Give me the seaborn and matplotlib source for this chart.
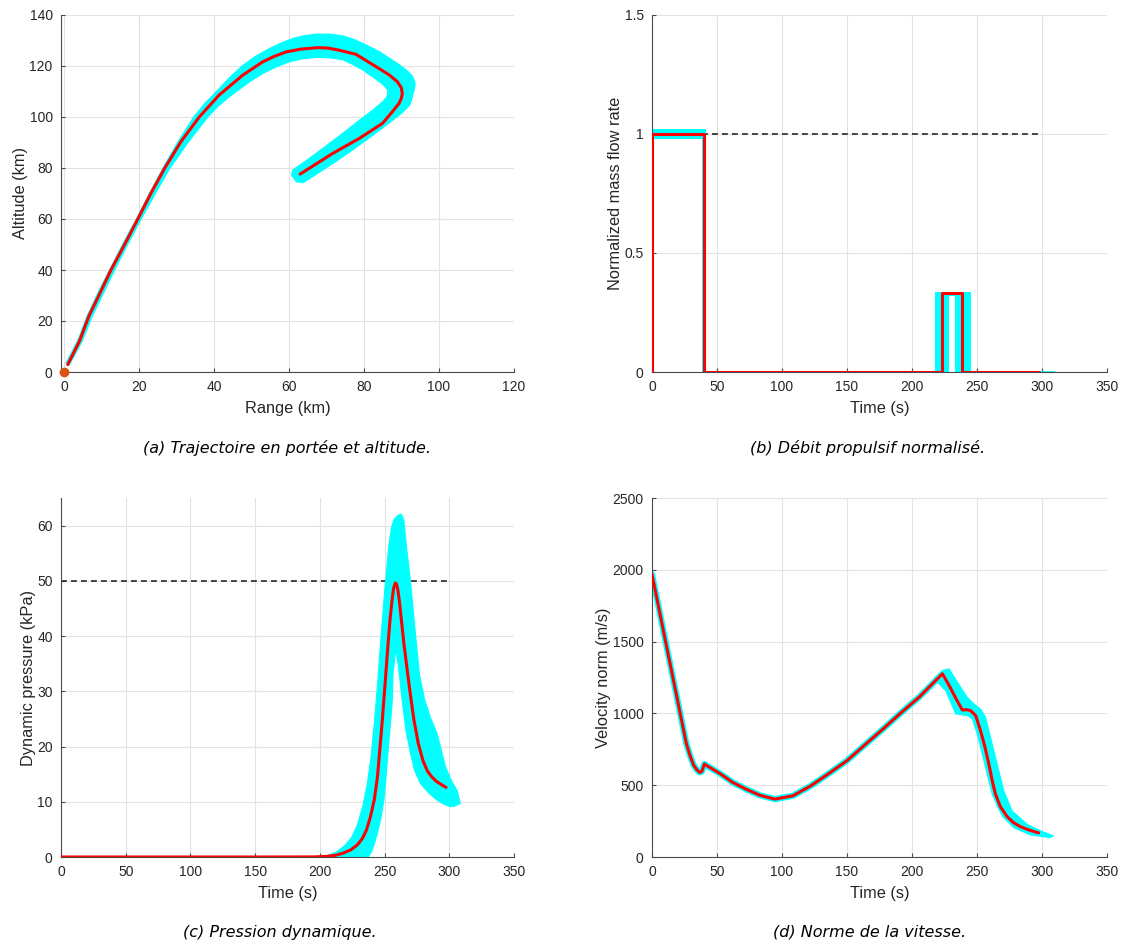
import matplotlib
matplotlib.use("Agg")
import matplotlib.pyplot as plt
import seaborn as sns
from matplotlib.ticker import FuncFormatter

# ---------------- (a) range / altitude ----------------
range_nom = [0.9, 4.0, 6.5, 9.3, 12.4, 16.0, 19.6, 23.1, 26.8, 31.1, 36.0, 41.3, 47.6, 52.9,
             55.9, 59.1, 63.0, 67.6, 70.5, 73.3, 77.8, 84.0, 86.7, 88.9, 89.9, 90.2, 89.9, 89.3,
             87.5, 84.9, 78.7, 71.6, 62.9]
alt_nom = [2.9, 12.0, 21.8, 30.3, 39.9, 49.8, 60.0, 70.1, 80.0, 90.3, 100.0, 108.6, 116.4, 121.6,
           123.7, 125.5, 126.6, 127.2, 127.0, 126.2, 124.6, 119.0, 116.5, 113.8, 111.5, 109.2, 107.2, 105.3,
           102.0, 97.5, 91.6, 85.7, 77.6]
# dispersion envelope: outer edge (up, over the top, back down) then inner edge (back to start)
range_env = [0.4, 3.6, 6.0, 8.9, 12.0, 15.5, 19.2, 22.7, 26.3, 30.2, 34.5, 37.3, 40.5, 44.0,
             47.5, 51.0, 54.8, 58.0, 61.0, 64.0, 67.2, 71.0, 74.4, 77.5, 80.6, 84.0, 86.8, 89.3,
             91.3, 92.8, 93.5, 93.6, 93.3, 92.8, 92.2, 90.2, 87.7, 84.3, 80.6, 76.2, 71.7, 67.5,
             63.7, 61.9, 60.6,
             61.0, 65.0, 69.0, 74.0, 78.8, 82.2, 85.0, 86.2, 86.3, 85.0, 82.5, 79.7, 77.0, 74.4,
             71.0, 67.2, 63.5, 60.1, 56.5, 53.0, 49.4, 44.1, 41.0, 38.3, 33.0, 28.2, 24.3, 20.5,
             16.9, 13.4, 10.2, 7.4, 4.7, 1.3]
alt_env = [3.4, 12.5, 21.7, 30.9, 39.9, 50.0, 60.0, 70.0, 80.0, 90.0, 100.0, 105.0, 109.9, 115.3,
           120.1, 123.8, 126.9, 129.1, 130.8, 131.9, 132.5, 132.5, 131.8, 130.3, 128.2, 125.7, 123.0, 120.6,
           118.4, 116.2, 114.0, 112.5, 110.5, 107.5, 104.7, 101.7, 98.8, 95.0, 91.0, 86.3, 81.8, 77.8,
           74.2, 74.6, 77.3,
           79.2, 83.4, 87.7, 93.3, 98.8, 102.6, 106.0, 108.2, 110.6, 112.8, 115.5, 118.4, 120.6, 122.4,
           123.2, 123.4, 122.8, 121.7, 119.6, 117.1, 113.8, 108.0, 104.2, 100.0, 90.0, 80.0, 70.0, 60.0,
           50.0, 39.9, 30.2, 21.7, 11.9, 2.7]

# ---------------- (b) normalized mass flow ----------------
t_flow = [0, 0, 40, 40, 223.4, 223.4, 238.2, 238.2, 297.5]
flow_nom = [0, 1, 1, 0, 0, 0.33, 0.33, 0, 0]
burn1_cut = [38.7, 41.4]
burn2_on = [217.5, 228.6]
burn2_off = [233.2, 245.4]
flow_tail = [297.5, 309.0]
flow_max = 1.0
flow_boost = 0.33

# ---------------- (c) dynamic pressure ----------------
t_q = [0, 150, 195, 205, 212, 218, 224, 229, 233, 236, 239, 242, 244.5, 246.5, 248.5, 250.6,
       252.5, 254.2, 255.8, 257.0, 258.3, 259.3, 260.3, 261.5, 263.0, 265.0, 267.2, 270.0,
       272.7, 276.0, 279.6, 283.0, 286.5, 290.0, 294.0, 297.5]
q_nom = [0, 0, 0.02, 0.1, 0.3, 0.7, 1.3, 2.2, 3.4, 4.9, 7.2, 10.3, 14.5, 19.9, 25.5, 32.0,
         38.0, 42.9, 46.5, 48.7, 49.6, 49.4, 48.3, 46.2, 42.9, 38.5, 34.4, 29.3,
         24.8, 20.6, 17.5, 15.6, 14.5, 13.7, 13.1, 12.6]
t_q_env = [198, 206, 212.7, 219, 224.5, 229, 233, 236.5, 239.5, 242.0, 244.5, 247.0, 250.2,
           253.3, 255.5, 257.5, 260.0, 262.8, 264.9, 267.0, 270.0, 273.8, 277.0, 281.0, 285.5,
           290.5, 297.0, 302.0, 306.0, 308.5, 304.0, 300.8, 295.5, 290.5, 284.0, 277.7, 273.0,
           270.0, 266.5, 263.6, 260.5, 258.5, 256.5, 256.0, 254.5, 253.0, 251.3, 249.5, 247.0,
           244.4, 242.0, 240.0, 237.5]
q_env = [0, 0.3, 0.9, 2.0, 3.5, 5.8, 9.0, 13.0, 18.0, 24.0, 31.0, 39.0, 48.5,
         56.5, 59.8, 61.2, 61.8, 62.1, 61.0, 56.0, 50.0, 40.5, 33.0, 28.4, 25.2,
         22.4, 16.4, 13.6, 12.1, 9.7, 9.2, 9.1, 9.6, 10.3, 11.6, 13.3, 15.8,
         18.8, 23.0, 28.4, 35.0, 37.5, 33.0, 28.4, 24.0, 20.0, 15.0, 10.3, 6.8,
         4.3, 2.3, 1.0, 0]
q_limit = 50

# ---------------- (d) velocity norm ----------------
t_v = [0, 10, 20, 26.4, 29.5, 32.0, 34.7, 36.7, 38.3, 40.3, 42.2, 52.8, 62, 72.2, 83, 94.4,
       108.3, 122.2, 135, 150, 163, 177.8, 191, 205.6, 215, 223.4, 229.2, 234, 238.7, 242, 245,
       249, 252.7, 256, 259.1, 262, 264.2, 268, 273.2, 278, 283.4, 290, 297.4]
v_nom = [1969, 1520, 1075, 790, 700, 640, 605, 589, 596, 648, 636, 578, 520, 473, 430, 403,
         426, 496, 575, 671, 775, 892, 1000, 1114, 1200, 1276, 1184, 1100, 1024, 1026, 1020,
         985, 880, 770, 647, 520, 438, 350, 281, 240, 211, 188, 168]
t_v_env = [214.4, 223.4, 228.5, 234.9, 242.5, 247.6, 252.7, 256.6, 260.4, 265.5, 270.6, 277.0,
           288.5, 298.7, 308.9, 306.4, 291.0, 278.2, 269.4, 261.7, 255.3, 250.2, 246.4, 242.5,
           233.6, 225.9, 219.6, 214.4]
v_env = [1200, 1299, 1310, 1217, 1112, 1066, 1031, 973, 833, 647, 461, 321,
         228, 182, 147, 135, 154, 205, 286, 438, 670, 857, 962, 985,
         996, 1159, 1217, 1170]

CYAN = "#00FFFF"
RED = "#FF0000"
INK = "#262626"

sns.set_theme(style="whitegrid")
plt.rcParams["font.family"] = ["Liberation Sans", "DejaVu Sans"]

fig = plt.figure(figsize=(11.24, 9.47), dpi=100)
W, H = 1124, 947
lc, rc = (61, 514), (652, 1107)
tr, br = (15, 372), (498, 857)


def make_ax(xs, ys):
    return fig.add_axes([xs[0] / W, 1 - ys[1] / H, (xs[1] - xs[0]) / W, (ys[1] - ys[0]) / H])


def style(ax, xlim, ylim, xticks, yticks, xlabel, ylabel):
    ax.set_facecolor("white")
    ax.set_xlim(*xlim)
    ax.set_ylim(*ylim)
    ax.set_xticks(xticks)
    ax.set_yticks(yticks)
    fmt = FuncFormatter(lambda v, p: "%g" % v)
    ax.xaxis.set_major_formatter(fmt)
    ax.yaxis.set_major_formatter(fmt)
    ax.grid(True, color="#e2e2e2", lw=0.8)
    ax.set_axisbelow(True)
    for s in ["top", "right"]:
        ax.spines[s].set_visible(False)
    for s in ["left", "bottom"]:
        ax.spines[s].set_color("#4a4a4a")
        ax.spines[s].set_linewidth(0.8)
    ax.tick_params(direction="in", length=3, width=0.8, color="#4a4a4a",
                   labelsize=10, labelcolor=INK, pad=6, left=True, bottom=True)
    ax.set_xlabel(xlabel, fontsize=11.8, color=INK, labelpad=5)
    ax.set_ylabel(ylabel, fontsize=11.8, color=INK, labelpad=1)


def caption(x, y, s):
    fig.text(x / W, 1 - y / H, s, ha="center", va="center", fontsize=11.5,
             style="italic", family="DejaVu Sans", color="black")


# (a)
ax = make_ax(lc, tr)
ax.fill(range_env, alt_env, color=CYAN, lw=0.8, zorder=2)
sns.lineplot(x=range_nom, y=alt_nom, ax=ax, color=RED, lw=2.2, sort=False, estimator=None, zorder=3)
ax.plot([0], [0], "o", color="#D95319", ms=6, clip_on=False, zorder=4)
style(ax, (-0.9, 120), (0, 140), range(0, 121, 20), range(0, 141, 20), "Range (km)", "Altitude (km)")
caption(287, 448, "(a) Trajectoire en portée et altitude.")

# (b)
ax = make_ax(rc, tr)
ax.plot([0, 300], [flow_max, flow_max], color=INK, lw=1.2, ls=(0, (3.5, 2.5)), zorder=1.5)
ax.fill_between([0, burn1_cut[1]], flow_max - 0.019, flow_max + 0.019, color=CYAN, lw=0, zorder=2)
ax.fill_between(burn1_cut, 0, flow_max, color=CYAN, lw=0, zorder=2)
ax.fill_between(burn2_on, 0, flow_boost + 0.006, color=CYAN, lw=0, zorder=2)
ax.fill_between(burn2_off, 0, flow_boost + 0.006, color=CYAN, lw=0, zorder=2)
ax.fill_between([burn2_on[0], burn2_off[1]], flow_boost - 0.012, flow_boost + 0.006,
                color=CYAN, lw=0, zorder=2)
ax.plot(flow_tail, [0, 0], color=CYAN, lw=2, zorder=2)
sns.lineplot(x=t_flow, y=flow_nom, ax=ax, color=RED, lw=2.2, sort=False, estimator=None, zorder=3)
style(ax, (0, 350), (0, 1.5), range(0, 351, 50), [0, 0.5, 1, 1.5], "Time (s)",
      "Normalized mass flow rate")
caption(868, 448, "(b) Débit propulsif normalisé.")

# (c)
ax = make_ax(lc, br)
ax.plot([0, 300], [q_limit, q_limit], color=INK, lw=1.2, ls=(0, (3.5, 2.5)), zorder=1.5)
ax.fill(t_q_env, q_env, color=CYAN, lw=0.8, zorder=2)
sns.lineplot(x=t_q, y=q_nom, ax=ax, color=RED, lw=2.2, sort=False, estimator=None, zorder=3)
style(ax, (0, 350), (0, 65), range(0, 351, 50), range(0, 61, 10), "Time (s)",
      "Dynamic pressure (kPa)")
caption(280, 932, "(c) Pression dynamique.")

# (d)
ax = make_ax(rc, br)
ax.plot(t_v, v_nom, color=CYAN, lw=4.5, solid_capstyle="round", zorder=2)
ax.fill(t_v_env, v_env, color=CYAN, lw=0.8, zorder=2)
sns.lineplot(x=t_v, y=v_nom, ax=ax, color=RED, lw=2.2, sort=False, estimator=None, zorder=3)
style(ax, (0, 350), (0, 2500), range(0, 351, 50), range(0, 2501, 500), "Time (s)",
      "Velocity norm (m/s)")
caption(870, 932, "(d) Norme de la vitesse.")

fig.savefig("out.png", dpi=100)
